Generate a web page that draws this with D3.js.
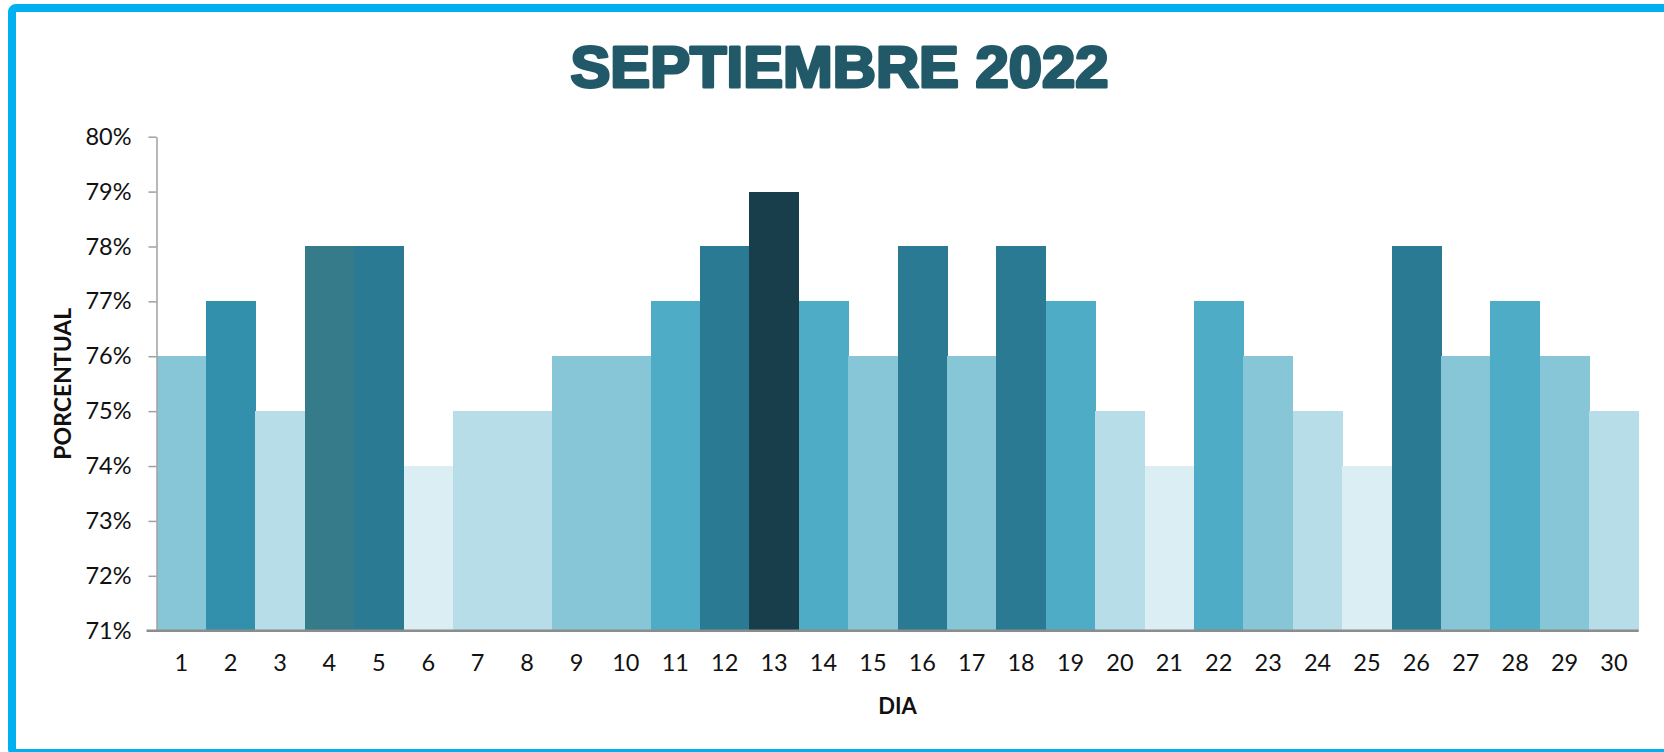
<!DOCTYPE html>
<html>
<head>
<meta charset="utf-8">
<script src="https://cdn.jsdelivr.net/npm/d3@7"></script>
<style>
  html, body { margin: 0; padding: 0; background: #fff; overflow: hidden; }
  svg { display: block; }
</style>
</head>
<body>
<svg id="chart" width="1664" height="752"></svg>
<script>
// days of the month and the percentage for each day
var days = [1, 2, 3, 4, 5, 6, 7, 8, 9, 10, 11, 12, 13, 14, 15,
            16, 17, 18, 19, 20, 21, 22, 23, 24, 25, 26, 27, 28, 29, 30];
var values = [0.76, 0.77, 0.75, 0.78, 0.78, 0.74, 0.75, 0.75, 0.76, 0.76,
              0.77, 0.78, 0.79, 0.77, 0.76, 0.78, 0.76, 0.78, 0.77, 0.75,
              0.74, 0.77, 0.76, 0.75, 0.74, 0.78, 0.76, 0.77, 0.76, 0.75];
var yTicks = [0.71, 0.72, 0.73, 0.74, 0.75, 0.76, 0.77, 0.78, 0.79, 0.80];
var barColors = ['#86c6d7', '#3290ad', '#b7dde8', '#357b8a', '#2b7a93', '#daeef3',
                 '#b7dde8', '#b7dde8', '#86c6d7', '#86c6d7', '#4facc6', '#2b7a93',
                 '#183d4b', '#4facc6', '#86c6d7', '#2b7a93', '#86c6d7', '#2b7a93',
                 '#4facc6', '#b7dde8', '#daeef3', '#4facc6', '#86c6d7', '#b7dde8',
                 '#daeef3', '#2b7a93', '#86c6d7', '#4facc6', '#86c6d7', '#b7dde8'];
var title = 'SEPTIEMBRE 2022';

var svg = d3.select('#chart');
var plotLeft = 156.5, plotRight = 1638.7, plotTop = 136.7, plotBottom = 630.7;

// outer frame
svg.append('rect')
    .attr('x', 12).attr('y', 8)
    .attr('width', 1680).attr('height', 745)
    .attr('rx', 4)
    .attr('fill', '#fff')
    .attr('stroke', '#00b0f0')
    .attr('stroke-width', 8);

var x = d3.scaleBand().domain(days).range([plotLeft, plotRight]).padding(0);
var y = d3.scaleLinear().domain([0.71, 0.80]).range([plotBottom, plotTop]);

svg.append('g')
    .attr('shape-rendering', 'crispEdges')
    .selectAll('rect')
    .data(values)
    .enter()
    .append('rect')
        .attr('x', function(d, i) { return x(days[i]); })
        .attr('y', function(d) { return y(d); })
        .attr('width', x.bandwidth() + 0.5)
        .attr('height', function(d) { return plotBottom - y(d); })
        .attr('fill', function(d, i) { return barColors[i]; });

// y axis
var yAxis = svg.append('g')
    .attr('transform', 'translate(' + plotLeft + ',0)')
    .call(d3.axisLeft(y).tickValues(yTicks).tickFormat(d3.format('.0%'))
        .tickSize(8).tickSizeOuter(0).tickPadding(17));
yAxis.select('.domain').attr('stroke', '#a0a0a0').attr('stroke-width', 1.5);
yAxis.selectAll('.tick line').attr('stroke', '#a0a0a0').attr('stroke-width', 1.5);
yAxis.selectAll('.tick text')
    .attr('font-family', 'Lato, "Open Sans", sans-serif')
    .attr('font-size', 23.5)
    .attr('fill', '#111');

// x axis
var xAxis = svg.append('g')
    .attr('transform', 'translate(0,' + plotBottom + ')')
    .call(d3.axisBottom(x).tickSize(0).tickPadding(24));
xAxis.select('.domain').attr('stroke', '#8c8c8c').attr('stroke-width', 2.5)
    .attr('d', 'M' + (plotLeft - 10) + ',0H' + plotRight);
xAxis.selectAll('.tick text')
    .attr('font-family', 'Lato, "Open Sans", sans-serif')
    .attr('font-size', 23.5)
    .attr('fill', '#111');

// titles
svg.append('text')
    .attr('x', 839.5).attr('y', 87)
    .attr('text-anchor', 'middle')
    .attr('font-family', '"Liberation Sans", Arial, sans-serif')
    .attr('font-weight', 900)
    .attr('font-size', 57)
    .attr('textLength', 538)
    .attr('lengthAdjust', 'spacingAndGlyphs')
    .attr('fill', '#215968')
    .attr('stroke', '#215968')
    .attr('stroke-width', 3)
    .attr('stroke-linejoin', 'round')
    .text(title);

svg.append('text')
    .attr('x', (plotLeft + plotRight) / 2).attr('y', 714)
    .attr('text-anchor', 'middle')
    .attr('font-family', 'Lato, "Open Sans", sans-serif')
    .attr('font-weight', 'bold')
    .attr('font-size', 22)
    .attr('fill', '#111')
    .text('DIA');

svg.append('text')
    .attr('transform', 'translate(71,' + ((plotTop + plotBottom) / 2) + ') rotate(-90)')
    .attr('text-anchor', 'middle')
    .attr('font-family', 'Lato, "Open Sans", sans-serif')
    .attr('font-weight', 'bold')
    .attr('font-size', 23)
    .attr('fill', '#111')
    .text('PORCENTUAL');
</script>
</body>
</html>
